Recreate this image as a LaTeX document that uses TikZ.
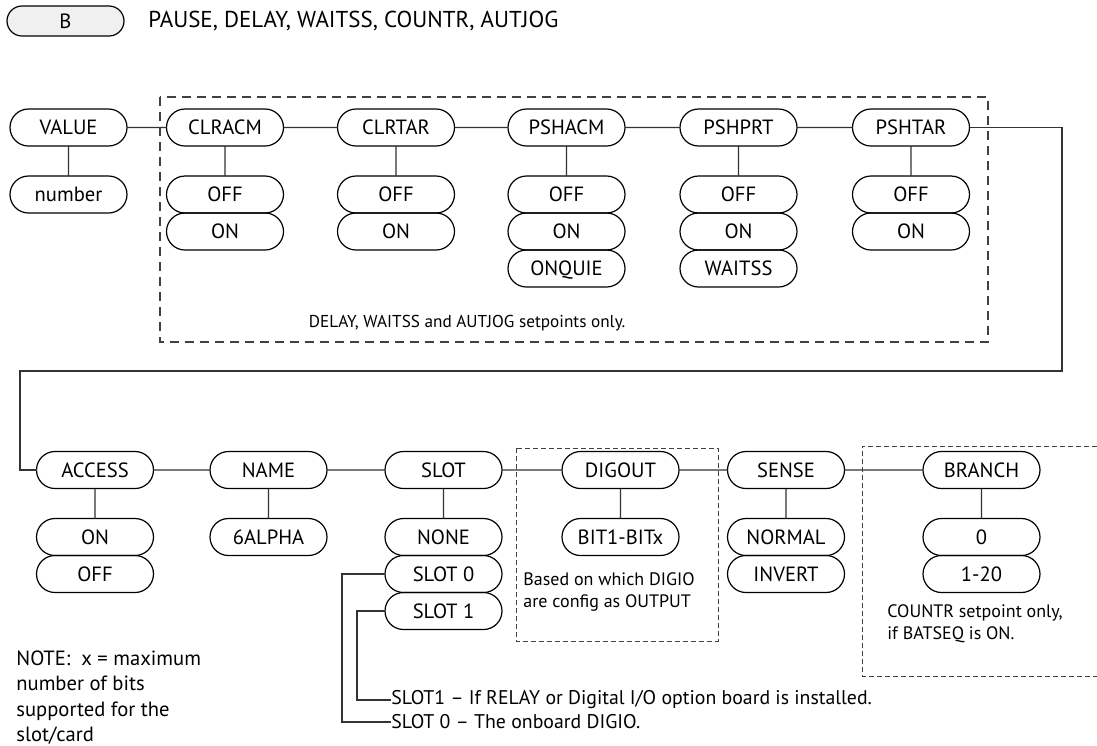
\documentclass[tikz,border=0pt]{standalone}
\usepackage{fontspec}
\setmainfont{PT Sans}
\usetikzlibrary{shapes.misc,positioning}

\begin{document}
\begin{tikzpicture}[
        x=0.5pt, y=-0.5pt,
        every node/.style={align=center},
        menu/.style={draw=black, line width=0.6pt, rounded rectangle,
                     minimum width=58.5pt, minimum height=18.5pt,
                     inner sep=0pt, outer sep=0pt,
                     text height=0.7em, text depth=0pt,
                     font=\fontsize{10.3}{12}\selectfont},
        link/.style={draw=black!80, line width=0.6pt},
        group/.style={draw=black!75, line width=0.55pt,
                      dash pattern=on 4.5pt off 3pt},
        subgroup/.style={draw=black!75, line width=0.5pt,
                         dash pattern=on 2.4pt off 1.6pt},
        remark/.style={font=\fontsize{9}{11}\selectfont, align=left,
                       inner sep=0pt},
    ]
    \useasboundingbox (0,0) rectangle (1097,745);

    % --- Heading ---------------------------------------------------------
    \node[menu, fill=black!6, minimum height=15pt] (bkey) at (65.5,21) {B};
    \node[anchor=west, inner sep=0pt, font=\fontsize{11.5}{13}\selectfont]
        (title) at (148,21) {PAUSE, DELAY, WAITSS, COUNTR, AUTJOG};

    % --- Upper row -------------------------------------------------------
    \draw[group] (160,97) rectangle (988,342);
    \node[remark, anchor=center, font=\fontsize{8.6}{11}\selectfont]
        (upnote) at (467,323) {DELAY, WAITSS and AUTJOG setpoints only.};

    \node[menu] (value)  at (68.5,127.5) {VALUE};
    \node[menu] (clracm) at (225,127.5)  {CLRACM};
    \node[menu] (clrtar) at (396,127.5)  {CLRTAR};
    \node[menu] (pshacm) at (566.5,127.5){PSHACM};
    \node[menu] (pshprt) at (738.5,127.5){PSHPRT};
    \node[menu] (pshtar) at (911,127.5)  {PSHTAR};

    \node[menu, below=15pt of value] (number) {number};

    \node[menu, below=15pt of clracm] (clracmoff) {OFF};
    \node[menu, below=0pt of clracmoff] (clracmon) {ON};

    \node[menu, below=15pt of clrtar] (clrtaroff) {OFF};
    \node[menu, below=0pt of clrtaroff] (clrtaron) {ON};

    \node[menu, below=15pt of pshacm] (pshacmoff) {OFF};
    \node[menu, below=0pt of pshacmoff] (pshacmon) {ON};
    \node[menu, below=0pt of pshacmon] (pshacmquie) {ONQUIE};

    \node[menu, below=15pt of pshprt] (pshprtoff) {OFF};
    \node[menu, below=0pt of pshprtoff] (pshprton) {ON};
    \node[menu, below=0pt of pshprton] (pshprtwait) {WAITSS};

    \node[menu, below=15pt of pshtar] (pshtaroff) {OFF};
    \node[menu, below=0pt of pshtaroff] (pshtaron) {ON};

    \draw[link] (value) -- (clracm);
    \draw[link] (clracm) -- (clrtar);
    \draw[link] (clrtar) -- (pshacm);
    \draw[link] (pshacm) -- (pshprt);
    \draw[link] (pshprt) -- (pshtar);
    \draw[link] (value) -- (number);
    \draw[link] (clracm) -- (clracmoff);
    \draw[link] (clrtar) -- (clrtaroff);
    \draw[link] (pshacm) -- (pshacmoff);
    \draw[link] (pshprt) -- (pshprtoff);
    \draw[link] (pshtar) -- (pshtaroff);

    % --- Wrap to lower row -----------------------------------------------
    \coordinate (wrapR) at (1062,371);
    \coordinate (wrapL) at (20,371);

    % --- Lower row -------------------------------------------------------
    \node[menu] (access) at (95,470)    {ACCESS};
    \node[menu] (name)   at (268.5,470) {NAME};
    \node[menu] (slot)   at (443.5,470) {SLOT};
    \node[menu] (digout) at (620.5,470) {DIGOUT};
    \node[menu] (sense)  at (786,470)   {SENSE};
    \node[menu] (branch) at (981.5,470) {BRANCH};

    \draw[link] (pshtar.east) -| (wrapR) -- (wrapL) |- (access.west);

    \node[menu, below=15pt of access] (accesson) {ON};
    \node[menu, below=0pt of accesson] (accessoff) {OFF};

    \node[menu, below=15pt of name] (alpha) {6ALPHA};

    \node[menu, below=15pt of slot] (slotnone) {NONE};
    \node[menu, below=0pt of slotnone] (slotzero) {SLOT 0};
    \node[menu, below=0pt of slotzero] (slotone) {SLOT 1};

    \node[menu, below=15pt of digout] (bits) {BIT1-BITx};

    \node[menu, below=15pt of sense] (normal) {NORMAL};
    \node[menu, below=0pt of normal] (invert) {INVERT};

    \node[menu, below=15pt of branch] (brzero) {0};
    \node[menu, below=0pt of brzero] (brrange) {1-20};

    \draw[link] (access) -- (name);
    \draw[link] (name) -- (slot);
    \draw[link] (slot) -- (digout);
    \draw[link] (digout) -- (sense);
    \draw[link] (sense) -- (branch);
    \draw[link] (access) -- (accesson);
    \draw[link] (name) -- (alpha);
    \draw[link] (slot) -- (slotnone);
    \draw[link] (digout) -- (bits);
    \draw[link] (sense) -- (normal);
    \draw[link] (branch) -- (brzero);

    % DIGOUT group
    \draw[subgroup] (516,448) rectangle (718,641);
    \node[remark, anchor=north west] (digionote) at (523,572)
        {Based on which DIGIO\\are config as OUTPUT};

    % BRANCH group, open to the right
    \draw[subgroup] (1097,446) -- (862,446) -- (862,676) -- (1097,676);
    \node[remark, anchor=north west] (countrnote) at (887,604)
        {COUNTR setpoint only,\\if BATSEQ is ON.};

    % SLOT notes
    \node[remark, anchor=west, font=\fontsize{9.9}{12}\selectfont]
        (slotonenote) at (391,700)
        {SLOT1 -- If RELAY or Digital I/O option board is installed.};
    \node[remark, anchor=west, font=\fontsize{9.9}{12}\selectfont]
        (slotzeronote) at (391,722)
        {SLOT 0 -- The onboard DIGIO.};
    \draw[link] (slotone.west) -- ++(-28,0) |- (slotonenote.west);
    \draw[link] (slotzero.west) -- ++(-43,0) |- (slotzeronote.west);

    % Footnote
    \node[anchor=north west, align=left, inner sep=0pt,
          font=\fontsize{10.3}{12.8}\selectfont] (footnote) at (16,650)
        {NOTE:\ \ x = maximum\\number of bits\\supported for the\\slot/card};

\end{tikzpicture}
\end{document}
